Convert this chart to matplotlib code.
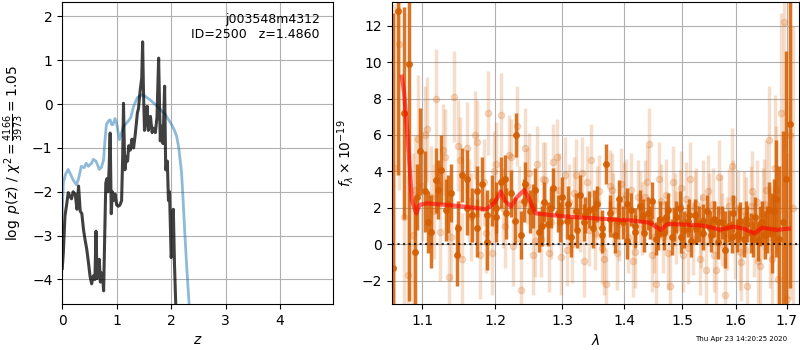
import numpy as np
import matplotlib
matplotlib.use("Agg")
import matplotlib.pyplot as plt
from matplotlib.ticker import FixedLocator, FixedFormatter, NullLocator

# p(z) curves
z_pz = [0.00, 0.02, 0.05, 0.08, 0.11, 0.14, 0.17, 0.20, 0.24, 0.27, 0.30, 0.33,
        0.36, 0.39, 0.42, 0.45, 0.48, 0.51, 0.54, 0.57, 0.60, 0.62, 0.64, 0.66,
        0.68, 0.70, 0.72, 0.74, 0.76, 0.78, 0.80, 0.82, 0.84, 0.86, 0.88, 0.90,
        0.92, 0.94, 0.97, 1.00, 1.03, 1.06, 1.09, 1.11, 1.125, 1.14, 1.15, 1.18,
        1.20, 1.22, 1.25, 1.28, 1.31, 1.34, 1.38, 1.40, 1.43, 1.46, 1.476, 1.49,
        1.51, 1.53, 1.56, 1.58, 1.60, 1.62, 1.65, 1.68, 1.71, 1.74, 1.77, 1.80,
        1.83, 1.85, 1.88, 1.90, 1.93, 1.95, 1.97, 2.00, 2.02, 2.04, 2.06, 2.09, 2.12]
logp = [-3.75, -3.39, -2.55, -2.3, -2.02, -2.1, -2.16, -2.0, -2.06, -2.4, -1.87, -2.44,
        -2.5, -2.86, -3.1, -3.31, -3.6, -3.92, -4.1, -3.92, -4.0, -2.9, -3.98, -3.9,
        -3.54, -4.06, -3.85, -3.9, -4.26, -3.0, -1.8, -1.7, -2.0, -1.5, -0.66, -2.5,
        -2.0, -2.2, -2.05, -2.3, -2.33, -2.3, -2.2, -1.2, 0.02, -1.0, -1.5, -1.2,
        -1.3, -0.95, -1.05, -0.8, -1.0, -0.7, -0.2, -0.1, 0.3, 0.6, 1.42, 0.4,
        -0.6, -0.4, -0.05, -0.6, -0.5, -0.28, -0.65, -0.55, -0.65, -0.3, 1.05, -0.84,
        -0.5, -0.9, 0.41, -1.5, -1.3, -2.2, -2.0, -3.5, -3.3, -2.4, -3.6, -4.8, -6.0]

z_chi = [0.00, 0.02, 0.06, 0.11, 0.16, 0.20, 0.26, 0.30, 0.35, 0.40, 0.44, 0.48,
         0.51, 0.54, 0.57, 0.62, 0.68, 0.72, 0.76, 0.78, 0.81, 0.85, 0.88, 0.91,
         0.93, 0.97, 1.00, 1.05, 1.09, 1.13, 1.21, 1.26, 1.31, 1.38, 1.46, 1.52,
         1.61, 1.70, 1.80, 1.90, 2.01, 2.06, 2.10, 2.14, 2.19, 2.22, 2.25, 2.29,
         2.33, 2.40]
chi_curve = [-2.5, -1.8, -1.6, -1.49, -1.62, -1.73, -1.84, -1.7, -1.42, -1.45, -1.35, -1.42,
             -1.38, -1.35, -1.26, -1.3, -1.49, -1.44, -1.27, -0.9, -0.47, -0.38, -0.36, -0.47,
             -0.47, -0.33, -0.45, -0.81, -0.65, -0.5, -0.39, -0.3, -0.05, 0.15, 0.21, 0.18,
             0.1, 0.0, -0.12, -0.25, -0.47, -0.6, -0.73, -1.0, -1.55, -2.2, -2.93, -3.8,
             -4.56, -6.0]

# spectrum, main points
wave_a = [1.062, 1.069, 1.076, 1.083, 1.090, 1.097, 1.104, 1.111, 1.118, 1.125, 1.132,
          1.139, 1.146, 1.153, 1.160, 1.167, 1.174, 1.181, 1.188, 1.195, 1.202, 1.209,
          1.216, 1.223, 1.230, 1.237, 1.244, 1.251, 1.258, 1.265, 1.272, 1.279, 1.286,
          1.293, 1.300, 1.307, 1.314, 1.321, 1.328, 1.335, 1.342, 1.349, 1.356, 1.363,
          1.370, 1.377, 1.384, 1.391, 1.398, 1.405, 1.412, 1.419, 1.426, 1.433, 1.440,
          1.447, 1.454, 1.461, 1.468, 1.475, 1.482, 1.489, 1.496, 1.503, 1.510, 1.517,
          1.524, 1.531, 1.538, 1.545, 1.552, 1.559, 1.566, 1.573, 1.580, 1.587, 1.594,
          1.601, 1.608, 1.615, 1.622, 1.629, 1.636, 1.643, 1.650, 1.657, 1.664, 1.671,
          1.678, 1.685, 1.692, 1.699, 1.706]
flux_a = [-1.3, 12.8, 7.2, 9.9, -0.4, 5.1, 2.9, 0.7, 3.5, 4.1, 1.9,
          2.8, -0.6, 3.8, 3.6, 1.6, 0.9, 3.3, 0.1, 2.4, 1.5, 3.4,
          1.7, 2.8, 6.0, 0.5, 3.3, 1.8, 3.0, 0.7, 2.3, 1.1, 3.1,
          1.7, 2.6, 1.3, 0.4, 1.8, 2.7, 1.2, 1.9, 0.9, 2.2, 0.5,
          4.4, 1.4, 0.5, 2.5, 1.2, 0.2, 1.9, 1.0, 2.1, 0.6, 1.7,
          2.4, 0.3, 1.4, 0.6, 1.9, 0.4, 1.5, 2.0, 0.8, 1.3, 0.2,
          1.6, 1.1, 0.6, 1.8, 0.9, 1.4, 0.1, 1.2, -0.3, 1.0, 1.7,
          0.5, 1.3, 0.3, 1.1, 0.6, 1.5, 0.2, 1.2, 0.5, 1.9, 0.6,
          2.5, 0.3, 1.2, 3.6, 6.6]
err_a = [14.0, 9.0, 5.8, 13.0, 3.0, 2.4, 2.2, 2.0, 1.8, 1.9, 1.7,
         1.6, 1.7, 1.5, 1.6, 1.5, 1.6, 1.5, 1.5, 1.4, 1.4, 1.4,
         1.4, 1.3, 1.2, 1.3, 1.2, 1.2, 1.2, 1.1, 1.1, 1.2, 1.1,
         1.0, 1.1, 1.0, 1.1, 1.0, 1.1, 1.0, 1.0, 1.1, 1.0, 1.0,
         1.1, 1.0, 1.0, 1.0, 0.9, 1.0, 0.9, 1.0, 0.9, 1.0, 0.9,
         1.0, 0.9, 1.0, 0.9, 0.9, 1.0, 0.9, 0.9, 1.0, 0.9, 0.9,
         0.9, 1.0, 0.9, 0.9, 0.9, 1.0, 0.9, 0.9, 1.0, 0.9, 1.0,
         0.9, 1.0, 1.0, 1.0, 1.1, 1.1, 1.1, 1.2, 1.3, 1.5, 2.2,
         3.2, 4.0, 5.0, 7.0, 9.0]

# spectrum, more main points (interleaved)
wave_d = [1.0935, 1.107, 1.1205, 1.134, 1.1475, 1.161, 1.1745, 1.188, 1.2015, 1.215,
          1.2285, 1.242, 1.2555, 1.269, 1.2825, 1.296, 1.3095, 1.323, 1.3365, 1.35,
          1.3635, 1.377, 1.3905, 1.404, 1.4175, 1.431, 1.4445, 1.458, 1.4715, 1.485,
          1.4985, 1.512, 1.5255, 1.539, 1.5525, 1.566, 1.5795, 1.593, 1.6065, 1.62,
          1.6335, 1.647, 1.6605, 1.674]
flux_d = [2.6, 1.2, 3.0, 2.2, 0.9, 2.0, 2.9, 1.6, 2.0, 3.6,
          1.3, 2.4, 2.1, 1.0, 2.0, 1.2, 2.2, 0.8, 1.6, 2.0,
          0.9, 1.7, 1.3, 2.2, 0.7, 1.6, 1.2, 0.6, 1.5, 1.1,
          0.4, 1.6, 0.9, 1.3, 0.5, 1.2, 0.9, 0.4, 1.1, 1.4,
          0.3, 1.0, 0.8, 1.8]
err_d = [1.8, 1.7, 1.6, 1.6, 1.5, 1.5, 1.4, 1.4, 1.4, 1.3,
         1.3, 1.2, 1.2, 1.1, 1.1, 1.1, 1.0, 1.0, 1.0, 1.0,
         1.0, 1.0, 1.0, 0.9, 0.9, 0.9, 0.9, 0.9, 0.9, 0.9,
         0.9, 0.9, 0.9, 0.9, 0.9, 0.9, 0.9, 0.9, 1.0, 1.0,
         1.0, 1.1, 1.3, 1.8]

# spectrum, second (faint) set
wave_b = [1.064, 1.070, 1.076, 1.082, 1.088, 1.094, 1.100, 1.106, 1.112, 1.118, 1.124,
          1.130, 1.136, 1.142, 1.148, 1.154, 1.160, 1.166, 1.172, 1.178, 1.184, 1.190,
          1.196, 1.202, 1.208, 1.214, 1.220, 1.226, 1.232, 1.238, 1.244, 1.250, 1.256,
          1.262, 1.268, 1.274, 1.280, 1.286, 1.292, 1.298, 1.304, 1.310, 1.316, 1.322,
          1.328, 1.334, 1.340, 1.346, 1.352, 1.358, 1.364, 1.370, 1.376, 1.382, 1.388,
          1.394, 1.400, 1.406, 1.412, 1.418, 1.424, 1.430, 1.436, 1.442, 1.448, 1.454,
          1.460, 1.466, 1.472, 1.478, 1.484, 1.490, 1.496, 1.502, 1.508, 1.514, 1.520,
          1.526, 1.532, 1.538, 1.544, 1.550, 1.556, 1.562, 1.568, 1.574, 1.580, 1.586,
          1.592, 1.598, 1.604, 1.610, 1.616, 1.622, 1.628, 1.634, 1.640, 1.646, 1.652,
          1.658, 1.664, 1.670, 1.676, 1.682, 1.688, 1.694, 1.700, 1.706, 1.712]
flux_b = [4.2, 11.0, 1.5, -1.7, 0.5, 5.8, 3.2, 6.3, 2.6, 8.0, 0.7,
          4.8, -1.8, 8.1, 5.4, -0.8, 5.3, 1.5, 6.0, -0.6, 3.4, 7.2,
          -0.5, 4.4, 7.1, 1.0, 4.9, -0.1, 6.5, -2.5, 5.3, 3.9, -0.6,
          4.4, 0.3, 3.5, -0.5, 4.5, 4.8, -0.7, 3.8, 2.3, 0.0, 3.8,
          1.6, -0.9, 3.4, 4.6, 0.6, 2.9, -0.2, -2.2, 3.2, 1.9, -0.5,
          3.3, 2.5, 0.4, 3.0, -0.4, 2.6, 1.4, 2.6, 5.5, -0.6, -2.2,
          3.6, 0.4, 2.7, -2.3, 3.4, 0.9, 2.1, -0.6, 2.5, 3.6, 0.3,
          2.2, -0.8, 2.6, -1.4, 1.9, 2.2, -1.4, 3.7, 0.8, -2.8, 2.1,
          4.3, 0.2, 2.0, -1.0, 1.8, -2.3, 2.1, 0.5, 2.3, -1.2, 1.7,
          3.0, 5.7, -0.8, 4.2, -1.9, 7.2, 12.2, -3.0, 6.0, 2.0]
err_b = [9.0, 8.0, 6.5, 5.5, 4.5, 3.5, 3.0, 2.9, 2.8, 2.7, 2.7,
         2.6, 2.6, 2.5, 2.5, 2.5, 2.5, 2.4, 2.4, 2.4, 2.4, 2.3,
         2.3, 2.3, 2.3, 2.3, 2.2, 2.2, 2.2, 2.2, 2.2, 2.2, 2.2,
         2.1, 2.1, 2.1, 2.1, 2.1, 2.1, 2.1, 2.1, 2.1, 2.1, 2.0,
         2.0, 2.0, 2.0, 2.0, 2.0, 2.0, 2.0, 2.0, 2.0, 2.0, 2.0,
         2.0, 2.0, 2.0, 2.0, 2.0, 2.0, 2.0, 2.0, 2.0, 2.0, 2.0,
         2.0, 2.0, 2.0, 2.0, 2.0, 2.0, 2.0, 2.0, 2.0, 2.0, 2.0,
         2.0, 2.0, 2.0, 2.0, 2.0, 2.0, 2.0, 2.0, 2.0, 2.1, 2.1,
         2.1, 2.1, 2.1, 2.1, 2.2, 2.2, 2.2, 2.3, 2.3, 2.4, 2.5,
         2.7, 3.0, 3.5, 4.0, 4.5, 5.5, 7.0, 8.0, 9.0, 10.0]

# spectrum, third (faint) set
wave_c = [1.091, 1.103, 1.115, 1.127, 1.139, 1.151, 1.163, 1.175, 1.187, 1.199,
          1.211, 1.223, 1.235, 1.247, 1.259, 1.271, 1.283, 1.295, 1.307, 1.319,
          1.331, 1.343, 1.355, 1.367, 1.379, 1.391, 1.403, 1.415, 1.427, 1.439,
          1.451, 1.463, 1.475, 1.487, 1.499, 1.511, 1.523, 1.535, 1.547, 1.559,
          1.571, 1.583, 1.595, 1.607, 1.619, 1.631, 1.643, 1.655, 1.667, 1.679]
flux_c = [3.0, 6.0, 1.8, 5.2, 0.4, 4.6, 2.4, 5.6, 0.6, 4.0,
          2.0, 4.8, 2.2, 3.2, 0.2, 3.6, 1.2, 3.0, -0.3, 2.8,
          3.9, 0.8, 2.3, -0.8, 3.0, 1.1, 2.7, -0.9, 2.0, 3.4,
          0.4, 2.4, -0.5, 1.9, 3.1, -0.2, 2.0, 0.7, 2.9, -0.6,
          1.8, 0.6, 2.5, -0.4, 1.6, 2.9, -0.9, 2.2, 0.4, 3.0]
err_c = [3.0, 2.7, 2.6, 2.5, 2.4, 2.4, 2.3, 2.3, 2.2, 2.2,
         2.2, 2.1, 2.1, 2.1, 2.0, 2.0, 2.0, 2.0, 2.0, 2.0,
         2.0, 2.0, 2.0, 2.0, 2.0, 2.0, 2.0, 2.0, 2.0, 2.0,
         2.0, 2.0, 2.0, 2.0, 2.0, 2.0, 2.0, 2.0, 2.0, 2.0,
         2.0, 2.0, 2.1, 2.1, 2.1, 2.2, 2.3, 2.5, 2.8, 3.5]

# best-fit model
wave_m = [1.0734, 1.0765, 1.0807, 1.0864, 1.0922, 1.0964, 1.1062, 1.1563, 1.1869,
          1.1987, 1.2083, 1.2142, 1.2232, 1.2320, 1.2429, 1.2506, 1.2589, 1.3045,
          1.4134, 1.4422, 1.4627, 1.4745, 1.5318, 1.5475, 1.5697, 1.5951, 1.6145,
          1.6355, 1.6509, 1.6806, 1.7044]
flux_m = [9.2, 8.3, 6.1, 2.43, 1.70, 2.16, 2.25, 2.07, 1.92,
          2.25, 2.89, 2.37, 2.07, 2.6, 2.98, 2.43, 1.70, 1.52,
          1.30, 1.19, 0.79, 1.12, 1.04, 0.97, 0.79, 0.97, 0.86,
          0.60, 0.91, 0.79, 0.86]

wave_ticks = [1.1, 1.2, 1.3, 1.4, 1.5, 1.6, 1.7]
g141_color = (0.8352941, 0.3686274, 0.0)

fig = plt.figure(figsize=(8, 3.5), dpi=100)
ax1 = fig.add_axes([0.0778, 0.1314, 0.339, 0.863])
ax2 = fig.add_axes([0.4896, 0.1314, 0.509, 0.863])

# left: p(z)
ax1.plot(z_chi, chi_curve, color='tab:blue', alpha=0.5, lw=2)
ax1.plot(z_pz, logp, color='k', alpha=0.75, lw=2.2)
ax1.set_xlim(0, 4.98)
ax1.set_ylim(-4.56, 2.33)
ax1.set_xticks([0, 1, 2, 3, 4])
ax1.set_yticks([-4, -3, -2, -1, 0, 1, 2])
ax1.grid(True)
ax1.set_xlabel(r'$z$')
ax1.set_ylabel(r'$\log\ p(z)$' + ' / ' + r'$\chi^2=\frac{4166}{3973}=1.05$')
ax1.text(0.95, 0.965, 'j003548m4312\nID=2500   z=1.4860', ha='right', va='top',
         transform=ax1.transAxes, fontsize=9)

# right: spectrum
for w, f, e in [(wave_b, flux_b, err_b), (wave_c, flux_c, err_c)]:
    ax2.errorbar(w, f, yerr=e, color=g141_color, alpha=0.2, marker='o',
                 ms=4.5, linestyle='none', elinewidth=2.5, capsize=0)
for w, f, e in [(wave_a, flux_a, err_a), (wave_d, flux_d, err_d)]:
    ax2.errorbar(w, f, yerr=e, color=g141_color, alpha=0.85, marker='o',
                 ms=4, linestyle='none', elinewidth=2.5, capsize=0)
ax2.plot(wave_m, flux_m, color='r', alpha=0.6, lw=3, zorder=5)
ax2.axhline(0, color='k', linestyle=':', lw=1.5, alpha=0.8, zorder=6)

ax2.set_xscale('log')
ax2.set_xlim(1.0606, 1.7248)
ax2.set_ylim(-3.28, 13.3)
ax2.xaxis.set_major_locator(FixedLocator(wave_ticks))
ax2.xaxis.set_major_formatter(FixedFormatter([f'{w:.1f}' for w in wave_ticks]))
ax2.xaxis.set_minor_locator(NullLocator())
ax2.set_yticks([-2, 0, 2, 4, 6, 8, 10, 12])
ax2.grid(True)
ax2.set_xlabel(r'$\lambda$')
ax2.set_ylabel(r'$f_\lambda\times10^{-19}$')

fig.text(0.984, 0.031, 'Thu Apr 23 14:20:25 2020', ha='right', va='center', fontsize=5)

fig.savefig('out.png', dpi=100)
